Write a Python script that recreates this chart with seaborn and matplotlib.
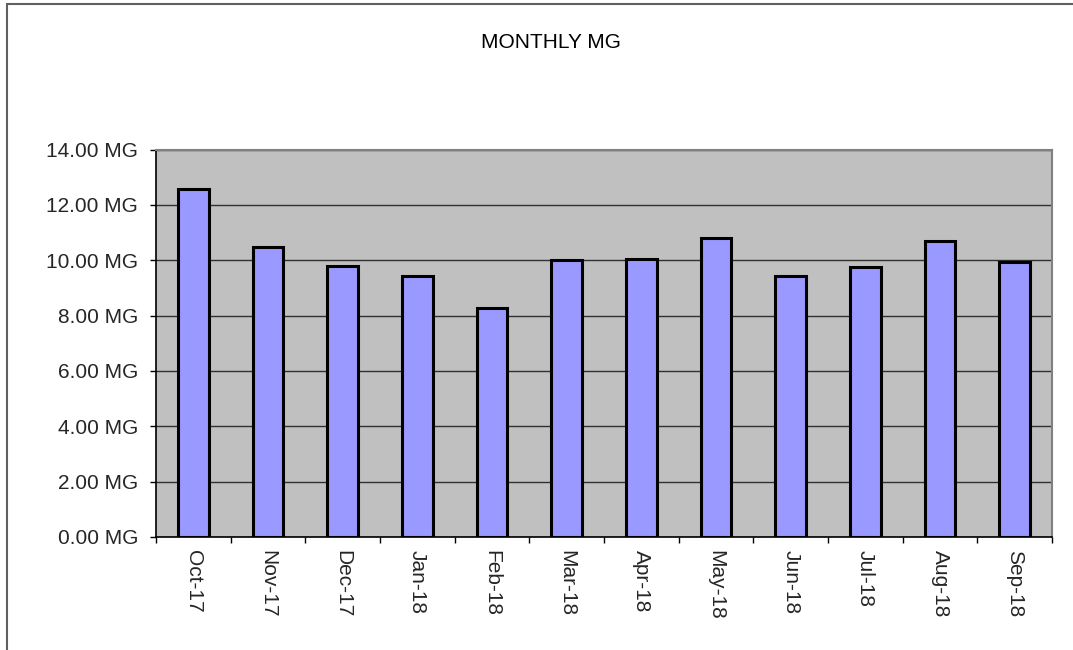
import matplotlib
matplotlib.use("Agg")
import matplotlib.pyplot as plt
import numpy as np
import pandas as pd
import seaborn as sns
from matplotlib.patches import Rectangle
from matplotlib.ticker import FixedLocator, FuncFormatter

months = ["Oct-17", "Nov-17", "Dec-17", "Jan-18", "Feb-18", "Mar-18",
          "Apr-18", "May-18", "Jun-18", "Jul-18", "Aug-18", "Sep-18"]
mg_values = [12.56, 10.47, 9.79, 9.44, 8.27, 10.02,
             10.05, 10.80, 9.43, 9.74, 10.70, 9.95]
y_ticks = [0, 2, 4, 6, 8, 10, 12, 14]

df = pd.DataFrame({"month": months, "mg": mg_values})

sns.set_style("white")
plt.rcParams["font.family"] = ["Liberation Sans", "DejaVu Sans"]

W, H = 1073, 650
fig = plt.figure(figsize=(W / 100, H / 100), dpi=100)
fig.patch.set_facecolor("white")

# outer chart frame (right/bottom edges fall outside the image)
fig.add_artist(Rectangle((7 / W, -0.2), 1.2, 1 - 4 / H + 0.2,
                         transform=fig.transFigure, fill=False,
                         edgecolor="#606060", linewidth=1.5))

ax = fig.add_axes([156 / W, 1 - 537 / H, (1052 - 156) / W, (537 - 149.5) / H])
ax.set_facecolor("#C0C0C0")

sns.barplot(data=df, x="month", y="mg", order=months, color="#9999FF",
            width=0.41, edgecolor="black", linewidth=2.2, saturation=1,
            ax=ax, zorder=3)

ax.set_ylim(0, 14)
ax.set_xlim(-0.5, len(months) - 0.5)
ax.set_yticks(y_ticks)
ax.yaxis.set_major_formatter(FuncFormatter(lambda v, _: f"{v:.2f} MG"))
ax.grid(axis="y", color="#303030", linewidth=1.0, zorder=1)
ax.set_axisbelow(True)

ax.set_xlabel("")
ax.set_ylabel("")
ax.set_xticks(range(len(months)))
ax.set_xticklabels(months, rotation=270, va="top", ha="center")
ax.xaxis.set_minor_locator(FixedLocator(np.arange(-0.5, len(months), 1.0)))
ax.tick_params(axis="x", which="major", length=0, pad=9.5, labelsize=15)
ax.tick_params(axis="x", which="minor", length=4, width=1, color="black",
               direction="out", bottom=True)
ax.tick_params(axis="y", length=4, width=1, color="black", direction="out",
               left=True, labelsize=15, pad=9)

for side in ["left", "bottom"]:
    ax.spines[side].set_color("black")
    ax.spines[side].set_linewidth(1.2)
for side in ["top", "right"]:
    ax.spines[side].set_visible(True)
    ax.spines[side].set_color("#808080")
    ax.spines[side].set_linewidth(1.5)

fig.text(551 / W, 1 - 43 / H, "MONTHLY MG", ha="center", va="center",
         fontsize=15, color="black")

fig.savefig("out.png", dpi=100)
